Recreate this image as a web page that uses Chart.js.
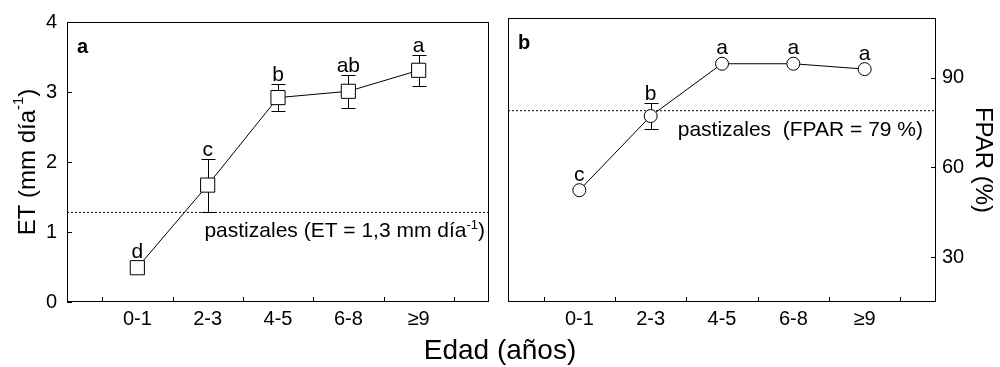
<!DOCTYPE html>
<html><head><meta charset="utf-8">
<script src="https://cdn.jsdelivr.net/npm/chart.js@4.4.0/dist/chart.umd.min.js"></script>
<style>
html,body{margin:0;padding:0;background:#fff;}
#wrap{position:relative;width:1000px;height:367px;overflow:hidden;background:#fff;}
#ca{position:absolute;left:0;top:0;}
#cb{position:absolute;left:500px;top:0;}
#xt{position:absolute;left:0;width:1000px;top:336px;text-align:center;font:28px "Liberation Sans",Arial,sans-serif;line-height:28px;color:#000;}
</style></head><body>
<div id="wrap">
<canvas id="ca" width="500" height="367"></canvas>
<canvas id="cb" width="500" height="367"></canvas>
<div id="xt">Edad (años)</div>
</div>
<script>
// ---- data ----
const categories = ['0-1', '2-3', '4-5', '6-8', '\u22659'];
const catIndex = [0, 1, 2, 3, 4];
const boundaryTicks = [-0.5, 0.5, 1.5, 2.5, 3.5, 4.5];

const etMean = [0.49, 1.67, 2.92, 3.01, 3.31];
const etSE = [0, 0.38, 0.19, 0.24, 0.22];
const etLetters = ['d', 'c', 'b', 'ab', 'a'];
const etGrassland = 1.28;
const etTicks = [0, 1, 2, 3, 4];

const fparMean = [52.4, 77.2, 94.7, 94.7, 92.9];
const fparSE = [0, 4.25, 0, 0, 0];
const fparLetters = ['c', 'b', 'a', 'a', 'a'];
const fparGrassland = 79;
const fparTicks = [30, 60, 90];

const FONT = '"Liberation Sans", Arial, sans-serif';

function drawRich(ctx, parts, x, y, align) {
  let total = 0;
  parts.forEach(p => { ctx.font = (p.bold ? 'bold ' : '') + p.size + 'px ' + FONT; p.w = ctx.measureText(p.t).width; total += p.w; });
  let cx = align === 'right' ? x - total : (align === 'center' ? x - total / 2 : x);
  ctx.textAlign = 'left';
  parts.forEach(p => {
    ctx.font = (p.bold ? 'bold ' : '') + p.size + 'px ' + FONT;
    ctx.fillText(p.t, cx, y - (p.rise || 0));
    cx += p.w;
  });
}

function panelPlugin(cfg) {
  return {
    id: 'panel',
    beforeDatasetsDraw(chart) {
      const ctx = chart.ctx, xs = chart.scales.x, ys = chart.scales[cfg.yId];
      ctx.save();
      ctx.strokeStyle = '#000'; ctx.lineWidth = 1;
      cfg.means.forEach((m, i) => {
        if (!cfg.se[i]) return;
        const px = Math.round(xs.getPixelForValue(catIndex[i])) + 0.5;
        const top = Math.round(ys.getPixelForValue(m + cfg.se[i])) + 0.5;
        const bot = Math.round(ys.getPixelForValue(m - cfg.se[i])) + 0.5;
        ctx.beginPath();
        ctx.moveTo(px, top); ctx.lineTo(px, bot);
        ctx.moveTo(px - 7, top); ctx.lineTo(px + 7, top);
        ctx.moveTo(px - 7, bot); ctx.lineTo(px + 7, bot);
        ctx.stroke();
      });
      ctx.restore();
    },
    afterDraw(chart) {
      const ctx = chart.ctx, a = chart.chartArea, xs = chart.scales.x, ys = chart.scales[cfg.yId];
      ctx.save();
      ctx.strokeStyle = '#000'; ctx.lineWidth = 1;
      ctx.strokeRect(Math.round(a.left) + 0.5, Math.round(a.top) + 0.5, Math.round(a.right - a.left) - 1, Math.round(a.bottom - a.top) - 1);
      ctx.beginPath();
      boundaryTicks.forEach(v => {
        const px = Math.round(xs.getPixelForValue(v)) + 0.5;
        ctx.moveTo(px, a.bottom); ctx.lineTo(px, a.bottom - 5);
      });
      cfg.yTicks.forEach(v => {
        const py = Math.round(ys.getPixelForValue(v)) + 0.5;
        if (cfg.side === 'left') { ctx.moveTo(a.left, py); ctx.lineTo(a.left + 5, py); }
        else { ctx.moveTo(a.right, py); ctx.lineTo(a.right - 5, py); }
      });
      ctx.stroke();
      // significance letters
      ctx.fillStyle = '#000';
      ctx.textBaseline = 'alphabetic';
      ctx.textAlign = 'center';
      ctx.font = '21px ' + FONT;
      cfg.means.forEach((m, i) => {
        const px = xs.getPixelForValue(catIndex[i]);
        const topErr = ys.getPixelForValue(m + cfg.se[i]);
        const topMark = ys.getPixelForValue(m) - cfg.markerHalf;
        ctx.fillText(cfg.letters[i], px, Math.min(topErr, topMark) - 3);
      });
      // panel letter
      ctx.textAlign = 'left';
      ctx.font = 'bold 20px ' + FONT;
      ctx.fillText(cfg.panelLetter, a.left + 10, a.top + 31);
      // grassland annotation
      const ly = ys.getPixelForValue(cfg.refValue);
      drawRich(ctx, cfg.refText, a.right - cfg.refRightGap, ly + 25, 'right');
      // rotated y title
      if (cfg.yTitle) {
        ctx.save();
        ctx.translate(cfg.yTitleX, (a.top + a.bottom) / 2);
        ctx.rotate(-Math.PI / 2);
        ctx.textBaseline = 'middle';
        drawRich(ctx, cfg.yTitle, 0, 0, 'center');
        ctx.restore();
      }
      ctx.restore();
    }
  };
}

function baseX() {
  return {
    type: 'linear', min: -1, max: 5,
    afterBuildTicks: s => { s.ticks = catIndex.map(v => ({ value: v })); },
    ticks: { callback: v => categories[v] ?? '', font: { size: 20, family: FONT }, color: '#000', padding: 5, maxRotation: 0, autoSkip: false },
    grid: { display: false, drawTicks: false },
    border: { display: false },
    afterFit: s => { s.height = 65; }
  };
}

Chart.defaults.font.family = FONT;
Chart.defaults.color = '#000';

new Chart(document.getElementById('ca'), {
  type: 'line',
  data: {
    datasets: [
      {
        data: catIndex.map((x, i) => ({ x, y: etMean[i] })),
        borderColor: '#000', borderWidth: 1,
        pointStyle: 'rect', pointRadius: 10, pointHoverRadius: 10,
        pointBackgroundColor: '#fff', pointBorderColor: '#000', pointBorderWidth: 1
      },
      {
        data: [{ x: -1, y: etGrassland }, { x: 5, y: etGrassland }],
        borderColor: '#000', borderWidth: 1, borderDash: [2, 2], pointRadius: 0
      }
    ]
  },
  options: {
    responsive: false, animation: false,
    layout: { padding: { top: 16, right: 5, left: 0, bottom: 0 } },
    plugins: { legend: { display: false }, tooltip: { enabled: false } },
    scales: {
      x: baseX(),
      y: {
        min: 0, max: 4,
        afterBuildTicks: s => { s.ticks = etTicks.map(v => ({ value: v })); },
        ticks: { font: { size: 20, family: FONT }, color: '#000', padding: 10 },
        grid: { display: false, drawTicks: false },
        border: { display: false },
        afterFit: s => { s.width = 67; }
      }
    }
  },
  plugins: [panelPlugin({
    yId: 'y', means: etMean, se: etSE, letters: etLetters, markerHalf: 7,
    yTicks: etTicks, side: 'left', panelLetter: 'a', refValue: etGrassland, refRightGap: 4,
    refText: [{ t: 'pastizales (ET = 1,3 mm día', size: 21 }, { t: '-1', size: 13, rise: 8 }, { t: ')', size: 21 }],
    yTitleX: 28,
    yTitle: [{ t: 'ET (mm día', size: 24 }, { t: '-1', size: 15, rise: 9 }, { t: ')', size: 24 }]
  })]
});

new Chart(document.getElementById('cb'), {
  type: 'line',
  data: {
    datasets: [
      {
        data: catIndex.map((x, i) => ({ x, y: fparMean[i] })),
        borderColor: '#000', borderWidth: 1,
        pointStyle: 'circle', pointRadius: 6.5, pointHoverRadius: 6.5,
        pointBackgroundColor: '#fff', pointBorderColor: '#000', pointBorderWidth: 1
      },
      {
        data: [{ x: -1, y: fparGrassland }, { x: 5, y: fparGrassland }],
        borderColor: '#000', borderWidth: 1, borderDash: [2, 2], pointRadius: 0
      }
    ]
  },
  options: {
    responsive: false, animation: false,
    layout: { padding: { top: 16, right: 0, left: 8, bottom: 0 } },
    plugins: { legend: { display: false }, tooltip: { enabled: false } },
    scales: {
      x: baseX(),
      y: {
        position: 'right', min: 15, max: 110,
        afterBuildTicks: s => { s.ticks = fparTicks.map(v => ({ value: v })); },
        ticks: { font: { size: 20, family: FONT }, color: '#000', padding: 6 },
        grid: { display: false, drawTicks: false },
        border: { display: false },
        title: { display: true, text: 'FPAR (%)', font: { size: 24, family: FONT }, color: '#000', padding: { top: 3, bottom: 0 } },
        afterFit: s => { s.width = 64; }
      }
    }
  },
  plugins: [panelPlugin({
    yId: 'y', means: fparMean, se: fparSE, letters: fparLetters, markerHalf: 6.5,
    yTicks: fparTicks, side: 'right', panelLetter: 'b', refValue: fparGrassland, refRightGap: 13,
    refText: [{ t: 'pastizales  (FPAR = 79 %)', size: 21 }]
  })]
});
</script>
</body></html>
